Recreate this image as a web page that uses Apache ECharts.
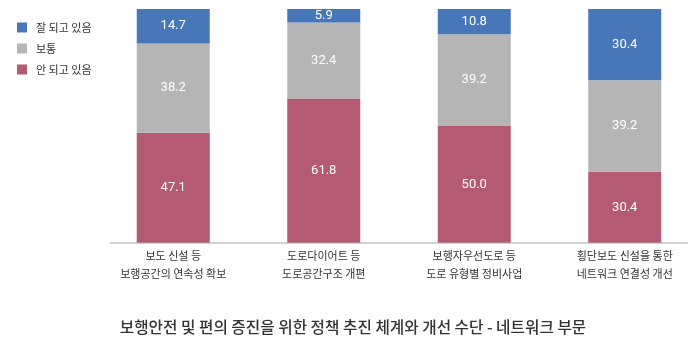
<!DOCTYPE html>
<html>
<head>
<meta charset="utf-8">
<script src="https://cdn.jsdelivr.net/npm/echarts@6/dist/echarts.min.js"></script>
<style>
html, body { margin: 0; padding: 0; background: #fff; }
#container { width: 700px; height: 351px; }
</style>
</head>
<body>
<div id="container"></div>
<script>
var categories = [
    '보도 신설 등\n보행공간의 연속성 확보',
    '도로다이어트 등\n도로공간구조 개편',
    '보행자우선도로 등\n도로 유형별 정비사업',
    '횡단보도 신설을 통한\n네트워크 연결성 개선'
];
var good = [14.7, 5.9, 10.8, 30.4];
var normal = [38.2, 32.4, 39.2, 39.2];
var bad = [47.1, 61.8, 50.0, 30.4];

var dom = document.getElementById('container');
var myChart = echarts.init(dom);

var font = '"Noto Sans CJK KR", "Noto Sans", sans-serif';

var seriesLabel = {
    show: true,
    position: 'inside',
    color: '#fff',
    fontSize: 13,
    fontFamily: 'Roboto, ' + font,
    formatter: function (p) { return p.value.toFixed(1); }
};

option = {
    animation: false,
    textStyle: { fontFamily: font },
    title: {
        text: '보행안전 및 편의 증진을 위한 정책 추진 체계와 개선 수단 - 네트워크 부문',
        left: 348,
        textAlign: 'center',
        top: 314,
        textStyle: { fontSize: 15.7, fontWeight: 500, color: '#333', fontFamily: font }
    },
    legend: {
        orient: 'vertical',
        left: 12,
        top: 17,
        itemWidth: 10,
        itemHeight: 10,
        itemGap: 10,
        icon: 'rect',
        textStyle: { fontSize: 11, color: '#333', padding: [0, 0, 0, 4] },
        data: ['잘 되고 있음', '보통', '안 되고 있음']
    },
    grid: {
        left: 98,
        width: 604,
        top: 9,
        height: 234
    },
    xAxis: {
        type: 'category',
        data: categories,
        axisLine: { show: false },
        axisTick: { show: false },
        axisLabel: { fontSize: 11, color: '#333', lineHeight: 18, margin: 4 }
    },
    yAxis: {
        type: 'value',
        min: 0,
        max: 100,
        show: false,
        splitLine: { show: false }
    },
    graphic: [{
        type: 'line',
        shape: { x1: 110, y1: 243, x2: 688, y2: 243 },
        style: { stroke: '#a6a6a6', lineWidth: 1.2 },
        z: 10
    }],
    series: [
        {
            name: '안 되고 있음',
            type: 'bar',
            stack: 'all',
            barWidth: 73,
            data: bad,
            itemStyle: { color: '#b55a73' },
            label: seriesLabel
        },
        {
            name: '보통',
            type: 'bar',
            stack: 'all',
            data: normal,
            itemStyle: { color: '#b4b5b4' },
            label: seriesLabel
        },
        {
            name: '잘 되고 있음',
            type: 'bar',
            stack: 'all',
            data: good,
            itemStyle: { color: '#4777b9' },
            label: seriesLabel
        }
    ]
};

if (option && typeof option === 'object') {
    myChart.setOption(option, true);
}
</script>
</body>
</html>
